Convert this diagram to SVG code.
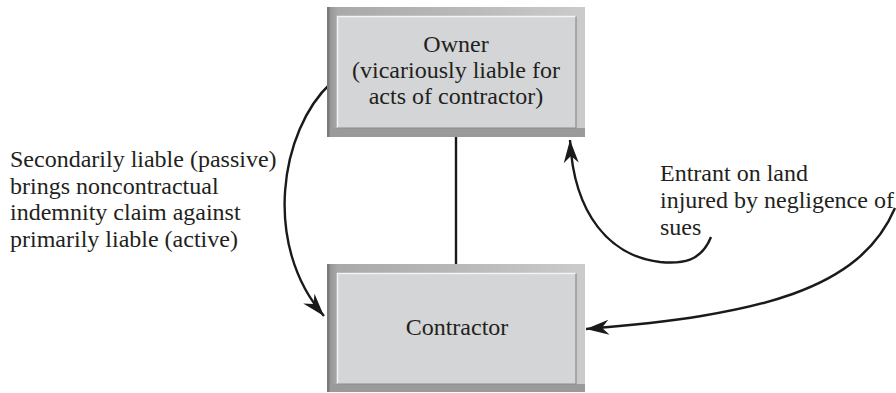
<svg xmlns="http://www.w3.org/2000/svg" width="896" height="393" viewBox="0 0 896 393">
  <defs>
    <linearGradient id="frameH" x1="0" y1="0" x2="1" y2="0">
      <stop offset="0" stop-color="#8e8e8e"/>
      <stop offset="0.04" stop-color="#a9a9a9"/>
      <stop offset="0.5" stop-color="#b8b8b8"/>
      <stop offset="1" stop-color="#cbcbcb"/>
    </linearGradient>
    <marker id="head" viewBox="-24 -8 26 16" markerWidth="26" markerHeight="16" refX="0" refY="0" orient="auto" markerUnits="userSpaceOnUse">
      <path d="M0,0 L-23,-7.5 L-16,0 L-23,7.5 Z" fill="#1a1a1a"/>
    </marker>
  </defs>
  <style>
    .frame { fill: url(#frameH); }
    .edgeL { fill: #7a7a7a; }
    .edgeB { fill: #9a9a9a; }
    .face { fill: #d4d5d7; stroke: none; }
    .hl { stroke: #f4f4f4; stroke-width: 1.5; fill: none; }
    .sh { stroke: #8c8c8c; stroke-width: 1.2; fill: none; }
    .lbl { font-family: "Liberation Serif", "Times New Roman", serif; font-size: 24px; fill: #231f20; }
    .mid { text-anchor: middle; }
    .wire { stroke: #1a1a1a; stroke-width: 2.4; fill: none; }
  </style>

  <rect width="896" height="393" fill="#ffffff"/>

  <!-- connectors -->
  <g id="connectors">
    <line class="wire" x1="456" y1="137" x2="456" y2="264"/>
    <path class="wire" d="M331,83 C280,130 262,245 324,316" marker-end="url(#head)"/>
    <path class="wire" d="M711,237 C701,262 682,264 660,262 C610,256 574,215 570,140" marker-end="url(#head)"/>
    <path class="wire" d="M895,208 C860,290 760,315 586,329" marker-end="url(#head)"/>
  </g>

  <!-- owner node -->
  <g id="owner">
    <rect class="frame" x="327" y="7" width="258" height="130"/>
    <rect class="edgeB" x="327" y="128" width="258" height="9"/>
    <rect class="edgeL" x="327" y="7" width="2.5" height="130"/>
    <rect class="face" x="337" y="16" width="239" height="112"/>
    <path class="hl" d="M337.5,128 V16.5 H576"/>
    <path class="sh" d="M337,128 H576 V16.5"/>
    <text class="lbl mid" x="456" y="52">Owner</text>
    <text class="lbl mid" x="456" y="78">(vicariously liable for</text>
    <text class="lbl mid" x="456" y="104">acts of contractor)</text>
  </g>

  <!-- contractor node -->
  <g id="contractor">
    <rect class="frame" x="327" y="264" width="258" height="128"/>
    <rect class="edgeB" x="327" y="384" width="258" height="8"/>
    <rect class="edgeL" x="327" y="264" width="2.5" height="128"/>
    <rect class="face" x="337" y="273" width="239" height="111"/>
    <path class="hl" d="M337.5,384 V273.5 H576"/>
    <path class="sh" d="M337,384 H576 V273.5"/>
    <text class="lbl mid" x="457" y="335">Contractor</text>
  </g>

  <!-- free labels -->
  <g id="indemnity-label">
    <text class="lbl" x="10" y="167">Secondarily liable (passive)</text>
    <text class="lbl" x="10" y="193.5">brings noncontractual</text>
    <text class="lbl" x="10" y="220">indemnity claim against</text>
    <text class="lbl" x="10" y="246.5">primarily liable (active)</text>
  </g>
  <g id="entrant-label">
    <text class="lbl" x="660" y="181">Entrant on land</text>
    <text class="lbl" x="660" y="208">injured by negligence of</text>
    <text class="lbl" x="660" y="235">sues</text>
  </g>
</svg>
